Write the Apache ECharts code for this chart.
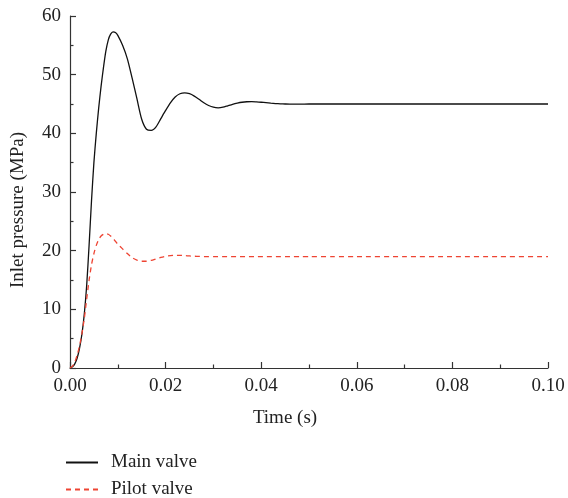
<!DOCTYPE html>
<html>
<head>
<meta charset="utf-8">
<script src="https://cdn.jsdelivr.net/npm/echarts@6/dist/echarts.min.js"></script>
<style>
  html, body { margin: 0; padding: 0; background: #fff; }
  #chart { width: 568px; height: 498px; }
</style>
</head>
<body>
<div id="chart"></div>
<script>
// Sample times (s)
const time = [
  0, 0.0005, 0.001, 0.0015, 0.002, 0.0025, 0.003, 0.0035, 0.004, 0.0045,
  0.005, 0.0055, 0.006, 0.0065, 0.007, 0.0075, 0.008, 0.0085, 0.009, 0.0095,
  0.010, 0.011, 0.012, 0.013, 0.014, 0.015, 0.016, 0.017, 0.018, 0.019,
  0.020, 0.021, 0.022, 0.023, 0.024, 0.025, 0.026, 0.027, 0.028, 0.029,
  0.030, 0.031, 0.032, 0.033, 0.034, 0.035, 0.036, 0.037, 0.038, 0.039,
  0.040, 0.041, 0.042, 0.043, 0.044, 0.045, 0.046, 0.048, 0.050, 0.055,
  0.060, 0.070, 0.080, 0.090, 0.100
];

// Inlet pressure of the main valve (MPa)
const mainValve = [
  0, 0.2, 0.7, 1.7, 3.4, 5.8, 9.3, 14.2, 21.0, 28.5,
  35.0, 40.0, 44.3, 48.0, 51.2, 54.0, 55.9, 56.9, 57.3, 57.2,
  56.7, 55.0, 52.7, 49.4, 45.9, 42.4, 40.7, 40.5, 41.1, 42.5,
  43.9, 45.2, 46.2, 46.75, 46.9, 46.75, 46.35, 45.8, 45.2, 44.75,
  44.45, 44.35, 44.45, 44.7, 44.95, 45.15, 45.3, 45.38, 45.4, 45.36,
  45.3, 45.22, 45.14, 45.08, 45.03, 45.0, 44.98, 44.98, 45.0, 45.0,
  45.0, 45.0, 45.0, 45.0, 45.0
];

// Inlet pressure of the pilot valve (MPa)
const pilotValve = [
  0, 0.3, 1.0, 2.2, 3.8, 5.9, 8.5, 11.8, 15.0, 17.6,
  19.5, 20.9, 21.9, 22.5, 22.8, 22.9, 22.8, 22.5, 22.1, 21.6,
  21.1, 20.3, 19.5, 18.8, 18.4, 18.2, 18.2, 18.35, 18.6, 18.85,
  19.05, 19.15, 19.2, 19.2, 19.15, 19.1, 19.05, 19.02, 19.0, 19.0,
  19.0, 19.0, 19.0, 19.0, 19.0, 19.0, 19.0, 19.0, 19.0, 19.0,
  19.0, 19.0, 19.0, 19.0, 19.0, 19.0, 19.0, 19.0, 19.0, 19.0,
  19.0, 19.0, 19.0, 19.0, 19.0
];

const seriesNames = ['Main valve', 'Pilot valve'];
const xTitle = 'Time (s)';
const yTitle = 'Inlet pressure (MPa)';

const FONT = 'Liberation Serif';
const FONT_SIZE = 19;
const AXIS_COLOR = '#333';
const TEXT_COLOR = '#222';
const MAIN_COLOR = '#111';
const PILOT_COLOR = '#ee4433';

const chart = echarts.init(document.getElementById('chart'), null, { renderer: 'canvas' });

const axisCommon = {
  type: 'value',
  axisLine: { show: true, lineStyle: { color: AXIS_COLOR, width: 1.2 } },
  axisTick: { show: true, inside: true, length: 6, lineStyle: { color: AXIS_COLOR, width: 1.2 } },
  minorTick: { show: true, splitNumber: 2, length: 3.5, lineStyle: { color: AXIS_COLOR, width: 1.2 } },
  splitLine: { show: false },
  axisLabel: { color: TEXT_COLOR, fontFamily: FONT, fontSize: FONT_SIZE }
};

// One legend row per series, stacked under the plot
function legendRow(name, centerY) {
  return {
    left: 65,
    top: centerY - 7,
    padding: 0,
    itemWidth: 32,
    itemHeight: 14,
    itemStyle: { opacity: 0 },
    textStyle: { color: TEXT_COLOR, fontFamily: FONT, fontSize: FONT_SIZE, lineHeight: 14, padding: [0, 0, 0, 8] },
    data: [name]
  };
}

chart.setOption({
  animation: false,
  backgroundColor: '#fff',
  grid: { left: 70, right: 20, top: 16, bottom: 130, containLabel: false },
  xAxis: Object.assign({}, axisCommon, {
    min: 0, max: 0.1, interval: 0.02,
    axisLabel: Object.assign({}, axisCommon.axisLabel, {
      margin: 9,
      formatter: v => v.toFixed(2)
    })
  }),
  yAxis: Object.assign({}, axisCommon, {
    min: 0, max: 60, interval: 10,
    axisLabel: Object.assign({}, axisCommon.axisLabel, { margin: 9 })
  }),
  legend: [legendRow(seriesNames[0], 460), legendRow(seriesNames[1], 487)],
  graphic: [
    {
      type: 'text',
      position: [285, 418],
      style: { text: xTitle, fill: TEXT_COLOR, font: FONT_SIZE + 'px "' + FONT + '"', align: 'center', verticalAlign: 'middle' }
    },
    {
      type: 'text',
      rotation: Math.PI / 2,
      position: [18, 210],
      style: { text: yTitle, fill: TEXT_COLOR, font: FONT_SIZE + 'px "' + FONT + '"', align: 'center', verticalAlign: 'middle' }
    }
  ],
  series: [
    {
      name: seriesNames[0],
      type: 'line',
      data: time.map((t, i) => [t, mainValve[i]]),
      symbol: 'none',
      smooth: 0.25,
      lineStyle: { color: MAIN_COLOR, width: 1.3 },
      itemStyle: { color: MAIN_COLOR }
    },
    {
      name: seriesNames[1],
      type: 'line',
      data: time.map((t, i) => [t, pilotValve[i]]),
      symbol: 'none',
      smooth: 0.25,
      lineStyle: { color: PILOT_COLOR, width: 1.3, type: [5, 4] },
      itemStyle: { color: PILOT_COLOR }
    }
  ]
});
</script>
</body>
</html>
